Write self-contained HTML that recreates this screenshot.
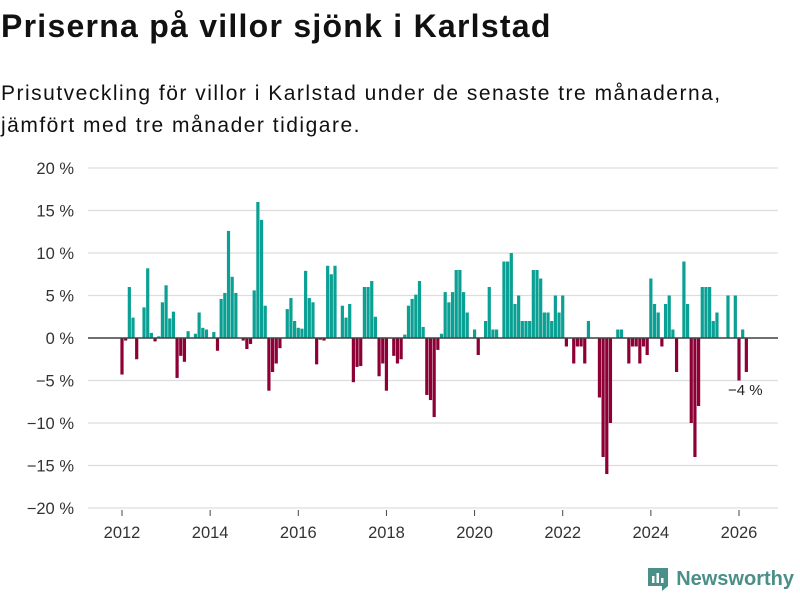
<!DOCTYPE html>
<html><head><meta charset="utf-8">
<style>
body{margin:0;background:#fff;font-family:"Liberation Sans","DejaVu Sans",sans-serif;}
#wrap{position:relative;width:800px;height:600px;overflow:hidden;}
h1{position:absolute;left:1px;top:8px;margin:0;font-size:32px;font-weight:bold;color:#111;letter-spacing:1.25px;}
#sub{position:absolute;left:1px;top:78px;margin:0;font-size:21px;line-height:32px;color:#111;letter-spacing:1.5px;}
#logo{position:absolute;right:6px;top:566px;font-size:20px;font-weight:bold;color:#4a8f88;display:flex;align-items:center;gap:6px;}
</style></head><body>
<div id="wrap">
<h1>Priserna på villor sjönk i Karlstad</h1>
<p id="sub">Prisutveckling för villor i Karlstad under de senaste tre månaderna,<br>jämfört med tre månader tidigare.</p>
<svg id="chart" width="800" height="600" style="position:absolute;left:0;top:0"></svg>
<div id="logo"><svg width="24" height="26" viewBox="0 0 24 26"><path d="M2 2h20v18l-6 5v-5H2z" fill="#4a8f88"/><rect x="6" y="10" width="2.5" height="7" fill="#fff"/><rect x="10.5" y="7" width="2.5" height="10" fill="#fff"/><rect x="15" y="12" width="2.5" height="5" fill="#fff"/></svg>Newsworthy</div>
</div>
<script>
const startYear = 2012;
const values = [-4.3,-0.3,6.0,2.4,-2.5,0,3.6,8.2,0.6,-0.4,0.2,4.2,6.2,2.3,3.1,-4.7,-2.1,-2.8,0.8,0,0.5,3.0,1.2,1.0,0,0.7,-1.5,4.6,5.3,12.6,7.2,5.3,0,-0.3,-1.3,-0.7,5.6,16.0,13.9,3.8,-6.2,-4.0,-3.0,-1.2,0,3.4,4.7,2.0,1.2,1.1,7.9,4.7,4.2,-3.1,-0.2,-0.3,8.5,7.5,8.5,0,3.8,2.4,4.0,-5.2,-3.4,-3.3,6.0,6.0,6.7,2.5,-4.5,-3.0,-6.2,0,-2.1,-3.0,-2.5,0.4,3.8,4.6,5.1,6.7,1.3,-6.7,-7.3,-9.3,-1.4,0.5,5.4,4.2,5.4,8.0,8.0,5.4,3.0,0,1.0,-2.0,0,2.0,6.0,1.0,1.0,0,9.0,9.0,10.0,4.0,5.0,2.0,2.0,2.0,8.0,8.0,7.0,3.0,3.0,2.0,5.0,3.0,5.0,-1.0,0,-3.0,-1.0,-1.0,-3.0,2.0,0,0,-7.0,-14.0,-16.0,-10.0,0,1.0,1.0,0,-3.0,-1.0,-1.0,-3.0,-1.0,-2.0,7.0,4.0,3.0,-1.0,4.0,5.0,1.0,-4.0,0,9.0,4.0,-10.0,-14.0,-8.0,6.0,6.0,6.0,2.0,3.0,0,0,5.0,0,5.0,-5.0,1.0,-4.0];
const yTicks = [20,15,10,5,0,-5,-10,-15,-20];
const xTicks = [2012,2014,2016,2018,2020,2022,2024,2026];
const lastLabel = "−4 %";

const NS="http://www.w3.org/2000/svg";
const svg=document.getElementById('chart');
const x0=122, pxPerYear=(739-122)/14;
const xScale=m=>x0+m*pxPerYear/12;
const yScale=v=>338-v*8.5;
function mk(t,a){const e=document.createElementNS(NS,t);for(const k in a)e.setAttribute(k,a[k]);svg.appendChild(e);return e;}
yTicks.forEach(t=>{
  const g=mk('line',{x1:88,x2:778,y1:yScale(t),y2:yScale(t),stroke:'#dddddd','stroke-width':1.3});
  
  
  const l=mk('text',{x:74,y:yScale(t)+6,'text-anchor':'end','font-size':16.5,fill:'#333','font-family':'Liberation Sans, sans-serif'});
  l.textContent=(t<0?'−'+(-t):t)+' %';
  
  
});
values.forEach((v,i)=>{
  if(v===0)return;
  const cx=xScale(i);
  const r=mk('rect',{x:cx-1.6,width:3.2,y:Math.min(yScale(v),yScale(0)),height:Math.abs(yScale(v)-yScale(0)),fill:v>0?'#0ba094':'#8c0036'});
  
  
});
const z=mk('line',{x1:88,x2:778,y1:yScale(0),y2:yScale(0),stroke:'#444','stroke-width':1.5});


xTicks.forEach(yr=>{
  const x=xScale((yr-startYear)*12);
  const tk=mk('line',{x1:x,x2:x,y1:510,y2:516,stroke:'#444','stroke-width':1});
  
  
  const l=mk('text',{x:x,y:538,'text-anchor':'middle','font-size':16.5,fill:'#333','font-family':'Liberation Sans, sans-serif'});
  l.textContent=yr;
  
  
});
const li=values.length-1;
const lab=mk('text',{x:xScale(li)-1,y:yScale(values[li])+23,'text-anchor':'middle','font-size':15,fill:'#222','font-family':'Liberation Sans, sans-serif'});
lab.textContent=lastLabel;


</script>
</body></html>
